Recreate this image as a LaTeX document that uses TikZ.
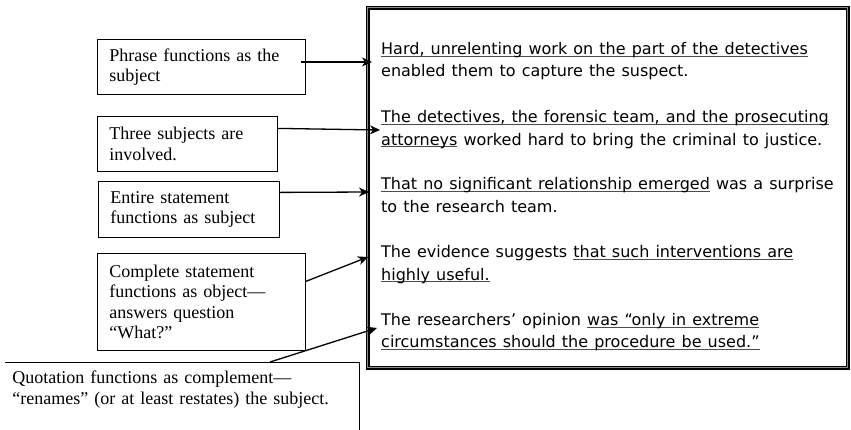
\documentclass[tikz,border=0pt]{standalone}
\usepackage{fontspec}
\usetikzlibrary{arrows.meta}
\setmainfont{Liberation Serif}
\newfontfamily\verdfont{DejaVu Sans}[WordSpace=1.2]
% underline sitting just under the baseline, through the descenders
\newcommand{\ulx}[1]{\setbox0=\hbox{#1}\rlap{\color{black!70}\rule[-2.2pt]{\wd0}{0.8pt}}\box0\relax}

\tikzset{
  notebox/.style={draw, line width=0.8pt, align=left, inner xsep=12pt, inner ysep=4pt, font=\fontsize{18}{20.5}\selectfont},
  sentence/.style={anchor=base west, align=left, inner sep=0pt, font=\verdfont\fontsize{16}{22.5}\selectfont},
  pointer/.style={-{Stealth[length=10pt,width=9pt,inset=3pt]}, line width=1.3pt},
  bigframe/.style={draw, line width=1.5pt, double=black!45, double distance=1.4pt}
}

\begin{document}
\begin{tikzpicture}[x=1pt,y=1pt,yscale=-1,xscale=1]
\useasboundingbox (0,0) rectangle (851,429);

%Shape: Frame round the example sentences
\node[bigframe, minimum width=480pt, minimum height=360pt, anchor=north west] (frame) at (367,7) {};

% Sentence Nodes (base = baseline of the second line)
\node[sentence] (p1) at (381,76.7) {\ulx{Hard, unrelenting work on the part of the detectives}\\enabled them to capture the suspect.};
\node[sentence] (p2) at (381,145) {\ulx{The detectives, the forensic team, and the prosecuting}\\\ulx{attorneys} worked hard to bring the criminal to justice.};
\node[sentence] (p3) at (381,212) {\ulx{That no significant relationship emerged} was a surprise\\to the research team.};
\node[sentence] (p4) at (381,280) {The evidence suggests \ulx{that such interventions are}\\\ulx{highly useful.}};
\node[sentence] (p5) at (381,347.7) {The researchers’ opinion \ulx{was “only in extreme}\\\ulx{circumstances should the procedure be used.”}};

% Note Nodes
\node[notebox, text width=184pt, minimum height=55pt, anchor=north west] (b1) at (97,39) {Phrase functions as the\\subject};
\node[notebox, text width=156pt, minimum height=55pt, anchor=north west] (b2) at (97,116) {Three subjects are\\involved.};
\node[notebox, text width=157pt, minimum height=56pt, anchor=north west] (b3) at (98,181) {Entire statement\\functions as subject};
\node[notebox, text width=184pt, minimum height=97pt, anchor=north west] (b4) at (97,253) {Complete statement\\functions as object—\\answers question\\“What?”};
\node[notebox, draw=none, text width=340pt, minimum height=54pt, inner xsep=7pt, anchor=north west] (b5) at (5,362) {Quotation functions as complement—\\“renames” (or at least restates) the subject.};
\draw[line width=0.8pt] (b5.north west) -- (b5.north east) -- ([yshift=20pt]b5.south east);

% Arrow ends
\coordinate (t1) at (372,62);
\coordinate (t2) at (380,130);
\coordinate (t3) at (369,192);
\coordinate (t4) at (368,257);
\coordinate (t5) at (377,328);

%Straight Lines
\draw[pointer] ([xshift=-5pt]b1.east |- t1) -- (t1);
\draw[pointer] ([yshift=-15.5pt]b2.east) -- (t2);
\draw[pointer] ([yshift=-17pt]b3.east) -- (t3);
\draw[pointer] ([yshift=-20.5pt]b4.east) -- (t4);
\draw[pointer] ([xshift=265pt]b5.north west) -- (t5);

\end{tikzpicture}
\end{document}
